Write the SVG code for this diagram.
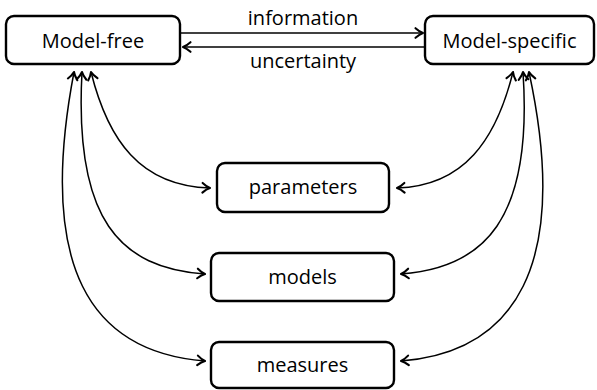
<svg xmlns="http://www.w3.org/2000/svg" width="597" height="390" viewBox="0 0 597 390">
<style>
.box{fill:#fff;stroke:#000;stroke-width:2.4}
.lbl{font-family:"Open Sans","Liberation Sans",sans-serif;font-size:20px;fill:#000;text-anchor:middle}
.con{fill:none;stroke:#000;stroke-width:1.5}
</style>
<defs>
<marker id="ah" markerUnits="userSpaceOnUse" markerWidth="14" markerHeight="14" refX="0" refY="0" viewBox="-10 -7 12 14" orient="auto-start-reverse">
<path d="M-7.5,-4.8 Q-3.5,-1.2 0,0 Q-3.5,1.2 -7.5,4.8" fill="none" stroke="#000" stroke-width="2.1" stroke-linecap="round" stroke-linejoin="round"/>
</marker>
</defs>
<rect width="597" height="390" fill="#fff"/>
<g id="connectors">
<path class="con" d="M181,33 L423,33" marker-end="url(#ah)"/>
<path class="con" d="M425,47 L183,47" marker-end="url(#ah)"/>
<path class="con" d="M91,72 C108,140 140,186 210,188" marker-start="url(#ah)" marker-end="url(#ah)"/>
<path class="con" d="M82,72 C74,220 120,268 205,274" marker-start="url(#ah)" marker-end="url(#ah)"/>
<path class="con" d="M74,72 C37,267 90,352 205,361" marker-start="url(#ah)" marker-end="url(#ah)"/>
<path class="con" d="M513,72 C496,140 464,186 397,188" marker-start="url(#ah)" marker-end="url(#ah)"/>
<path class="con" d="M523,72 C533,220 484,268 401,274" marker-start="url(#ah)" marker-end="url(#ah)"/>
<path class="con" d="M529,72 C571,267 514,352 401,361" marker-start="url(#ah)" marker-end="url(#ah)"/>
<text class="lbl" x="303" y="25">information</text>
<text class="lbl" x="303" y="68">uncertainty</text>
</g>
<g id="model-free">
<rect class="box" x="6" y="16" width="174" height="48" rx="8"/>
<text class="lbl" x="93" y="48">Model-free</text>
</g>
<g id="model-specific">
<rect class="box" x="425" y="16" width="169" height="48" rx="8"/>
<text class="lbl" x="509.5" y="48">Model-specific</text>
</g>
<g id="parameters">
<rect class="box" x="217" y="163" width="172" height="49" rx="8"/>
<text class="lbl" x="303" y="194">parameters</text>
</g>
<g id="models">
<rect class="box" x="211" y="253" width="183" height="48" rx="8"/>
<text class="lbl" x="302.5" y="284">models</text>
</g>
<g id="measures">
<rect class="box" x="211" y="342" width="183" height="46" rx="8"/>
<text class="lbl" x="302.5" y="372">measures</text>
</g>
</svg>
